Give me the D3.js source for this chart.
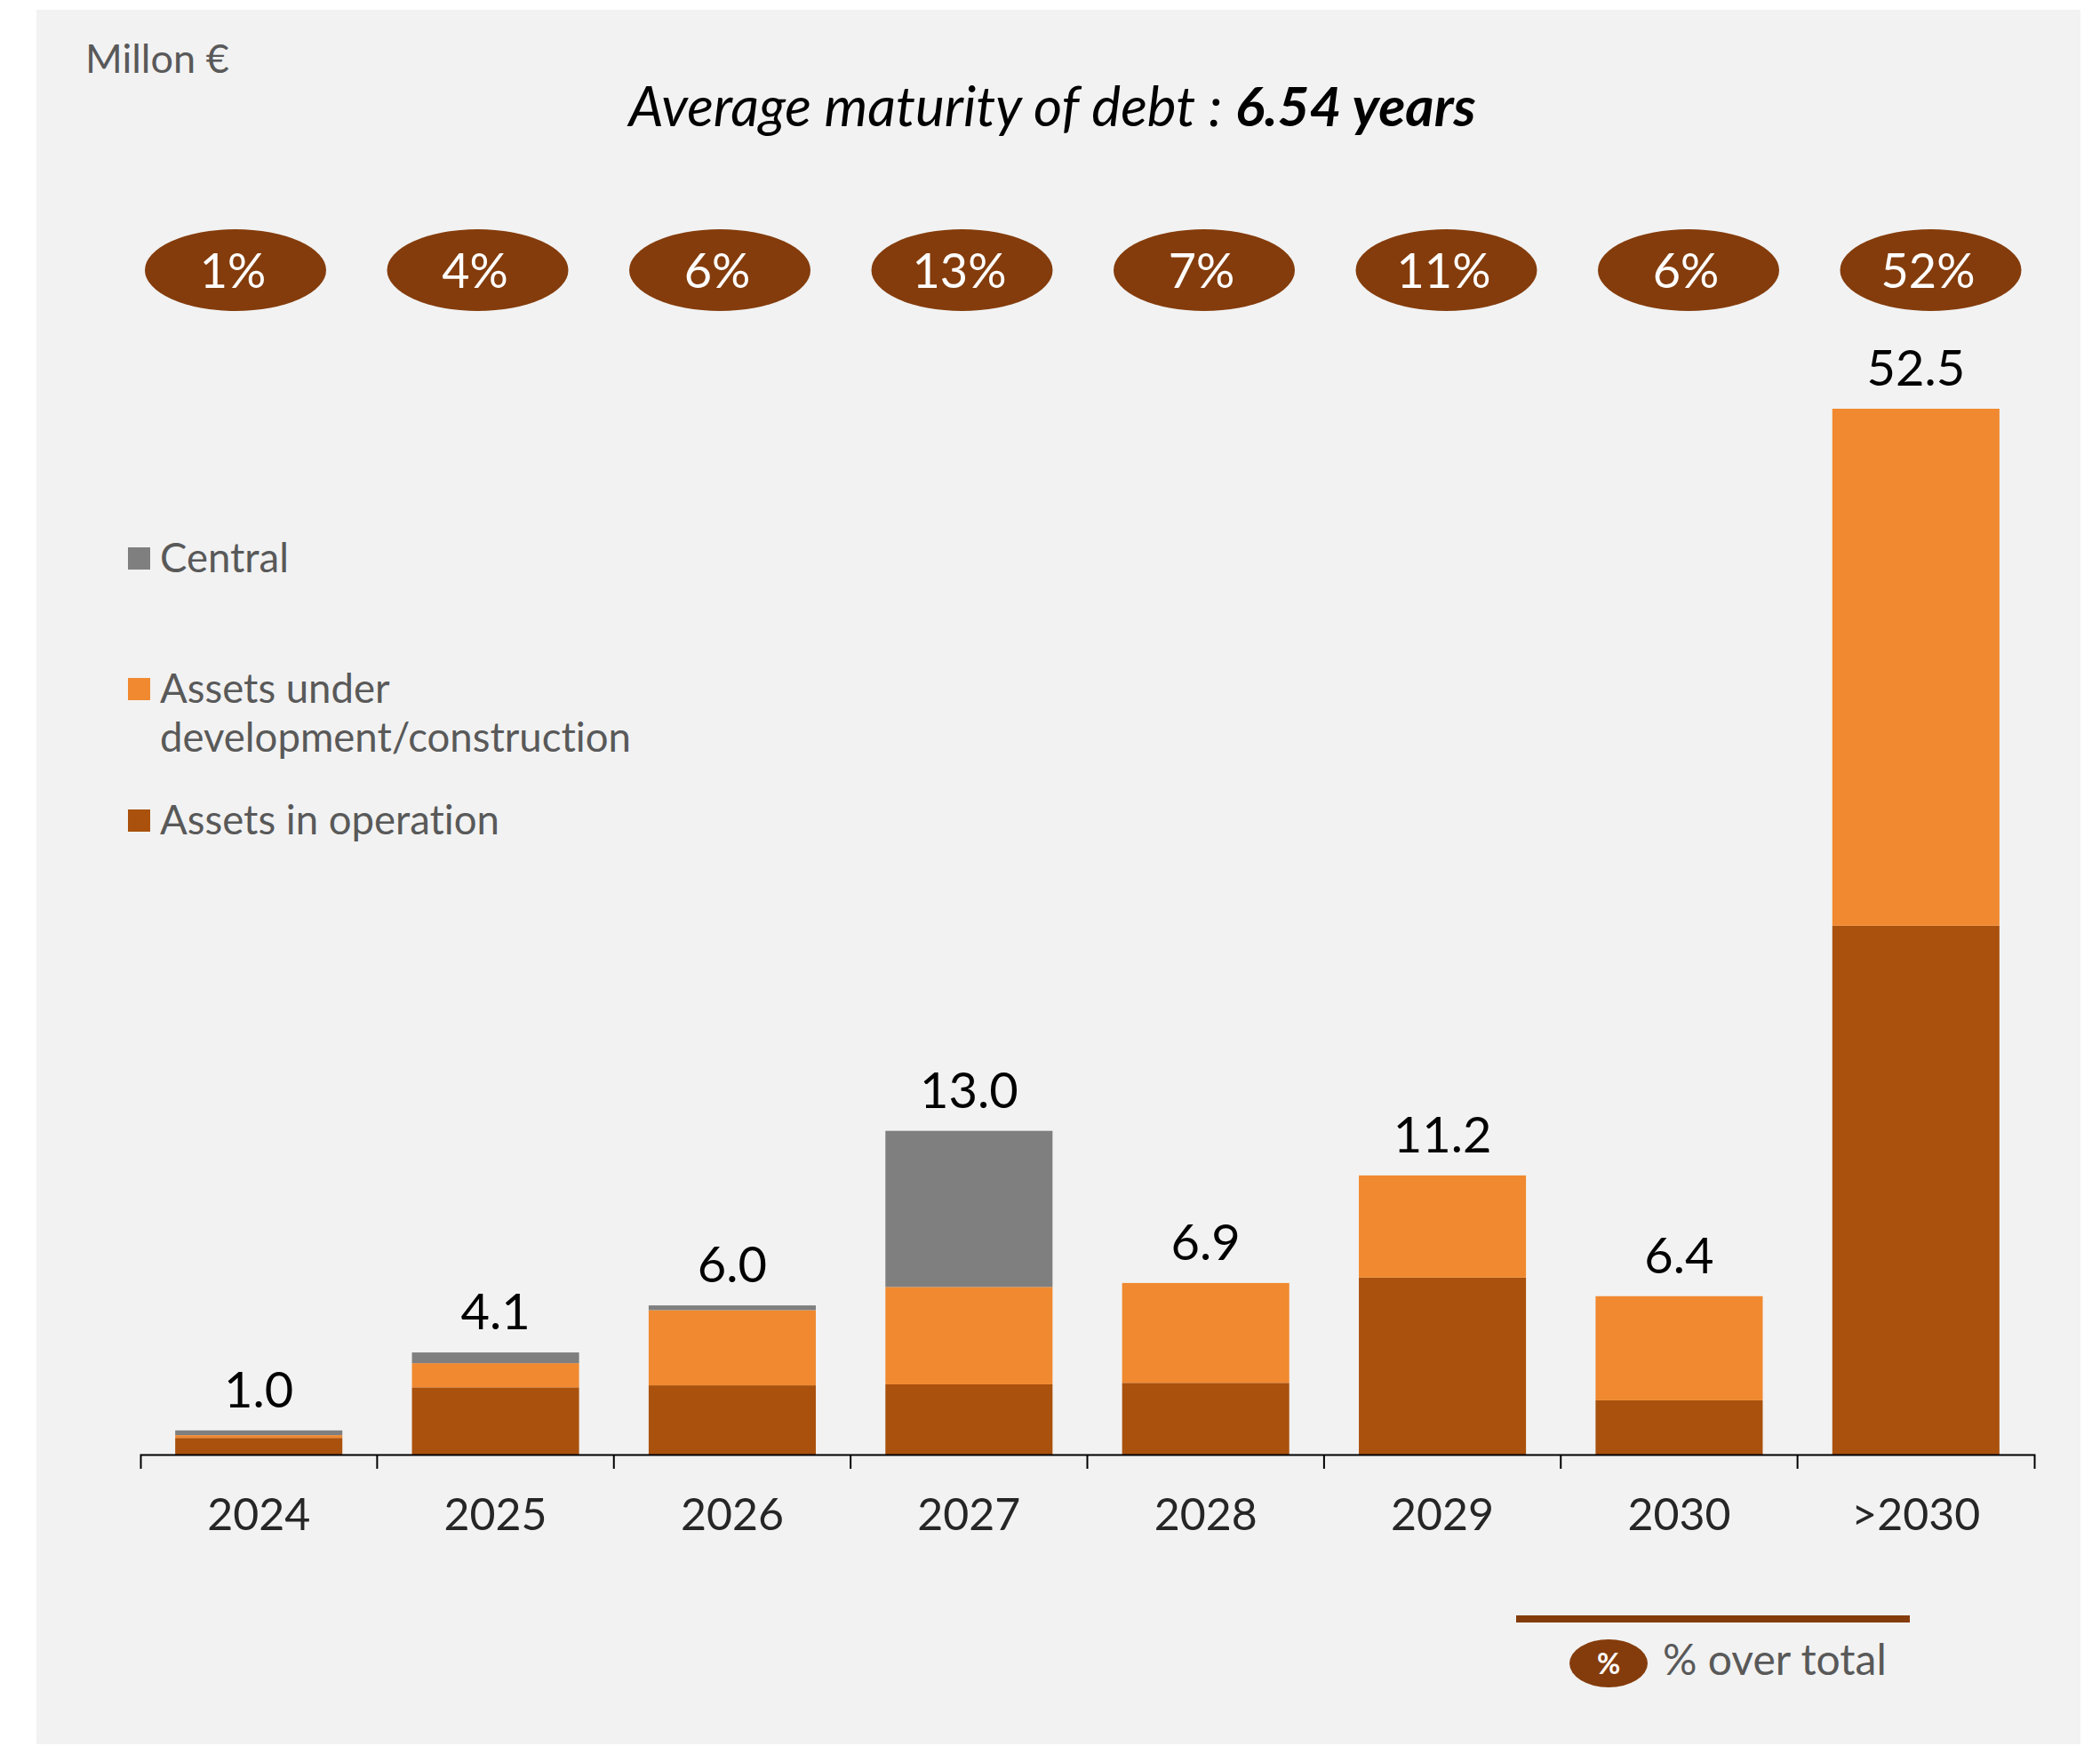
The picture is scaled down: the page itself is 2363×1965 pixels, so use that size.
<!DOCTYPE html>
<html>
<head>
<meta charset="utf-8">
<script src="https://cdn.jsdelivr.net/npm/d3@7/dist/d3.min.js"></script>
<style>
  html, body { margin: 0; padding: 0; background: #ffffff; }
  svg { display: block; font-family: Lato, "Open Sans", sans-serif; font-variant-ligatures: none; font-feature-settings: "liga" 0, "clig" 0; }
</style>
</head>
<body>
<svg id="chart" width="2363" height="1965"></svg>
<script>
// ---------------- data ----------------
const categories = ["2024", "2025", "2026", "2027", "2028", "2029", "2030", ">2030"];
const operation   = [0.67, 2.70, 2.78, 2.82, 2.88, 7.11, 2.18, 26.55];
const development = [0.11, 0.97, 3.02, 3.91, 4.01, 4.10, 4.18, 25.95];
const central     = [0.19, 0.43, 0.19, 6.27, 0, 0, 0, 0];
const seriesKeys   = ["operation", "development", "central"];
const legendLabels = [["Central"], ["Assets under", "development/construction"], ["Assets in operation"]];
const legendKeys   = ["central", "development", "operation"];
const titleRegular = "Average maturity of debt : ";
const titleBold    = "6.54 years";
const unitLabel    = "Millon €";
const shareLegend  = "% over total";

// ---------------- setup ----------------
const colors = { central: "#7F7F7F", development: "#F0892F", operation: "#AA510D" };
const ellipseColor = "#843C0C";
const svg = d3.select("#chart");

svg.append("rect").attr("x", 41).attr("y", 11).attr("width", 2300).attr("height", 1952).attr("fill", "#F2F2F2");

const rows = categories.map((c, i) => ({ cat: c, operation: operation[i], development: development[i], central: central[i] }));
const totals = rows.map(r => r.operation + r.development + r.central);
const grand = d3.sum(totals);

const axisY = 1637, topY = 460;
const x = d3.scaleBand().domain(categories).range([158, 2289]).paddingInner(0.294).paddingOuter(0.147);
const yMax = 42;
const yMain = d3.scaleLinear().domain([0, yMax]).range([axisY, topY]);
// categories exceeding the axis range are drawn compressed to fit
const yFor = i => totals[i] > yMax ? d3.scaleLinear().domain([0, totals[i]]).range([axisY, topY]) : yMain;

const stacked = d3.stack().keys(seriesKeys)(rows);

const gBars = svg.append("g");
stacked.forEach(s => {
  gBars.selectAll(null).data(s).enter().append("rect")
    .attr("x", d => x(d.data.cat))
    .attr("width", x.bandwidth())
    .attr("y", (d, i) => yFor(i)(d[1]))
    .attr("height", (d, i) => Math.max(0, yFor(i)(d[0]) - yFor(i)(d[1])))
    .attr("fill", colors[s.key]);
});

// value labels
svg.append("g").selectAll("text").data(categories).enter().append("text")
  .attr("x", d => x(d) + x.bandwidth() / 2)
  .attr("y", (d, i) => yFor(i)(totals[i]) - 26)
  .attr("text-anchor", "middle")
  .attr("font-size", 56)
  .attr("fill", "#000")
  .text((d, i) => totals[i].toFixed(1));

// axis
const axis = d3.axisBottom(x).tickSize(0).tickSizeOuter(16);
const gAxis = svg.append("g").attr("transform", `translate(0,${axisY})`).call(axis);
gAxis.select(".domain").attr("stroke", "#000").attr("stroke-width", 2);
gAxis.selectAll(".tick text")
  .attr("y", 85).attr("dy", 0)
  .attr("font-size", 50).attr("font-family", "Lato").attr("fill", "#262626");
const step = x.step();
gAxis.selectAll(".bound").data(d3.range(1, categories.length)).enter().append("line")
  .attr("x1", i => 158 + step * i).attr("x2", i => 158 + step * i)
  .attr("y1", 0).attr("y2", 16)
  .attr("stroke", "#000").attr("stroke-width", 2);

// share ellipses
const xe = d3.scalePoint().domain(categories).range([265, 2172.5]);
const gE = svg.append("g");
gE.selectAll("ellipse").data(categories).enter().append("ellipse")
  .attr("cx", d => xe(d)).attr("cy", 304).attr("rx", 102).attr("ry", 46)
  .attr("fill", ellipseColor);
gE.selectAll("text").data(categories).enter().append("text")
  .attr("x", d => xe(d) - 3).attr("y", 324)
  .attr("text-anchor", "middle").attr("font-size", 54).attr("fill", "#fff")
  .text((d, i) => Math.round(totals[i] / grand * 100) + "%");

// unit label
svg.append("text").attr("x", 96).attr("y", 82).attr("font-size", 45).attr("fill", "#595959").text(unitLabel);

// title
const title = svg.append("text").attr("x", 1184).attr("y", 142).attr("text-anchor", "middle")
  .attr("font-size", 62).attr("font-style", "italic").attr("fill", "#000");
title.append("tspan").text(titleRegular);
title.append("tspan").attr("font-weight", "bold").text(titleBold);

// legend
const legendTops = [616, 763, 911];
const gL = svg.append("g");
legendKeys.forEach((k, i) => {
  gL.append("rect").attr("x", 144).attr("y", legendTops[i]).attr("width", 25).attr("height", 25).attr("fill", colors[k]);
  const t = gL.append("text").attr("x", 180).attr("y", legendTops[i] + 28).attr("font-size", 45.5).attr("fill", "#595959");
  legendLabels[i].forEach((line, j) => {
    t.append("tspan").attr("x", 180).attr("dy", j === 0 ? 0 : 55).text(line);
  });
});

// bottom legend
svg.append("rect").attr("x", 1706).attr("y", 1818).attr("width", 443).attr("height", 8).attr("fill", ellipseColor);
svg.append("ellipse").attr("cx", 1810).attr("cy", 1872).attr("rx", 44).attr("ry", 27).attr("fill", ellipseColor);
svg.append("text").attr("x", 1810).attr("y", 1884).attr("text-anchor", "middle").attr("font-size", 32)
  .attr("font-weight", "bold").attr("fill", "#fff").text("%");
svg.append("text").attr("x", 1871).attr("y", 1885).attr("font-size", 48).attr("fill", "#595959").text(shareLegend);
</script>
</body>
</html>
